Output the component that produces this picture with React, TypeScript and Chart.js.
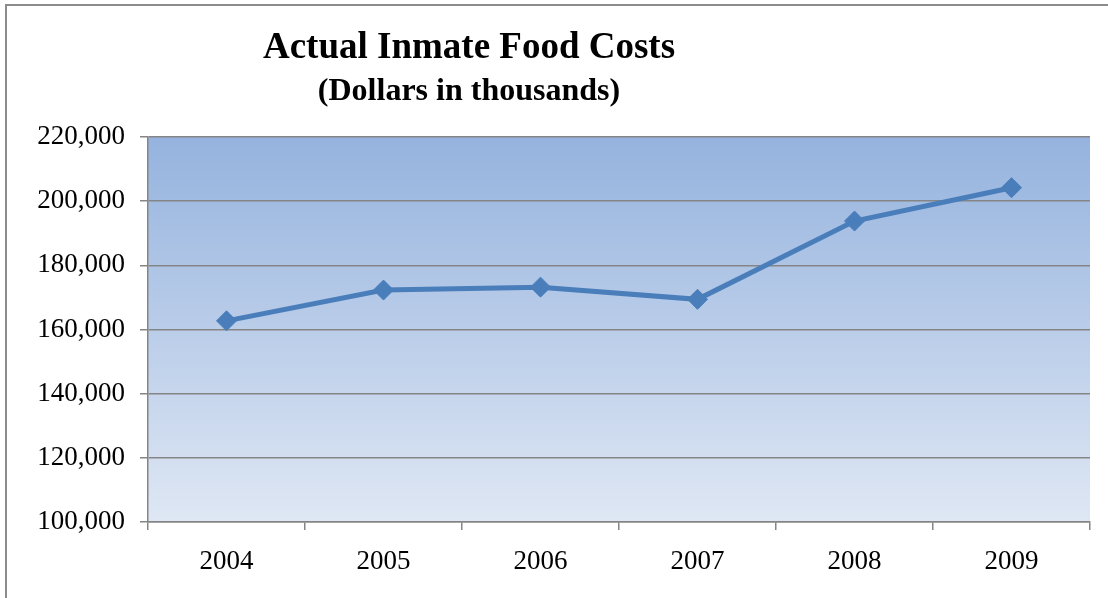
import React, { useEffect, useRef } from "react";
import { Chart, registerables } from "chart.js";

Chart.register(...registerables);

const TITLE = "Actual Inmate Food Costs";
const SUBTITLE = "(Dollars in thousands)";
const YEARS = ["2004", "2005", "2006", "2007", "2008", "2009"];
const FOOD_COSTS = [162700, 172300, 173200, 169400, 193800, 204200];
const Y_MIN = 100000;
const Y_MAX = 220000;
const Y_STEP = 20000;

const FONT = '"Liberation Serif", "Times New Roman", serif';
const GRID = "#858585";
const LINE = "#4a7ebb";

const decorPlugin = {
  id: "decor",
  beforeDraw(chart: any) {
    const { ctx, chartArea } = chart;
    ctx.save();
    // outer frame
    ctx.strokeStyle = "#8c8c8c";
    ctx.lineWidth = 2;
    ctx.strokeRect(6, 5, 1300, 800);
    // plot gradient
    const g = ctx.createLinearGradient(0, chartArea.top, 0, chartArea.bottom);
    g.addColorStop(0, "#95b3de");
    g.addColorStop(1, "#dfe7f4");
    ctx.fillStyle = g;
    ctx.fillRect(chartArea.left, chartArea.top, chartArea.right - chartArea.left, chartArea.bottom - chartArea.top);
    // titles
    ctx.fillStyle = "#000";
    ctx.textAlign = "center";
    ctx.textBaseline = "alphabetic";
    ctx.font = `bold 37px ${FONT}`;
    ctx.fillText(TITLE, 469, 58);
    ctx.font = `bold 32px ${FONT}`;
    ctx.fillText(SUBTITLE, 469, 100);
    ctx.restore();
  },
};

export default function App() {
  const ref = useRef<HTMLCanvasElement>(null);
  useEffect(() => {
    if (!ref.current) return;
    const chart = new Chart(ref.current, {
      type: "line",
      data: {
        labels: YEARS,
        datasets: [
          {
            data: FOOD_COSTS,
            borderColor: LINE,
            backgroundColor: LINE,
            borderWidth: 5,
            pointStyle: "rectRot",
            pointRadius: 10,
            pointBorderWidth: 1,
            pointBorderColor: LINE,
            pointBackgroundColor: LINE,
            tension: 0,
          },
        ],
      },
      options: {
        responsive: false,
        animation: false,
        devicePixelRatio: 1,
        layout: { padding: { top: 137, right: 18, bottom: 0, left: 0 } },
        plugins: { legend: { display: false }, tooltip: { enabled: false }, title: { display: false } },
        scales: {
          x: {
            offset: true,
            grid: { offset: true, drawOnChartArea: false, drawTicks: true, tickLength: 8, color: GRID, lineWidth: 1.5 },
            border: { color: GRID, width: 1.5 },
            ticks: { color: "#000", font: { family: FONT, size: 27 }, padding: 16, maxRotation: 0 },
            afterFit: (s: any) => {
              s.height = 76;
            },
          },
          y: {
            min: Y_MIN,
            max: Y_MAX,
            grid: { color: GRID, lineWidth: 1.5, tickLength: 8 },
            border: { color: GRID, width: 1.5 },
            ticks: {
              stepSize: Y_STEP,
              color: "#000",
              font: { family: FONT, size: 27 },
              padding: 15,
              callback: (v: any) => Number(v).toLocaleString("en-US"),
            },
            afterFit: (s: any) => {
              s.width = 148;
            },
          },
        },
      },
      plugins: [decorPlugin],
    });
    return () => chart.destroy();
  }, []);
  return (
    <div style={{ position: "absolute", left: 0, top: 0, width: 1108, height: 598, background: "#fff", overflow: "hidden" }}>
      <canvas ref={ref} width={1108} height={598} style={{ width: 1108, height: 598, display: "block" }} />
    </div>
  );
}
